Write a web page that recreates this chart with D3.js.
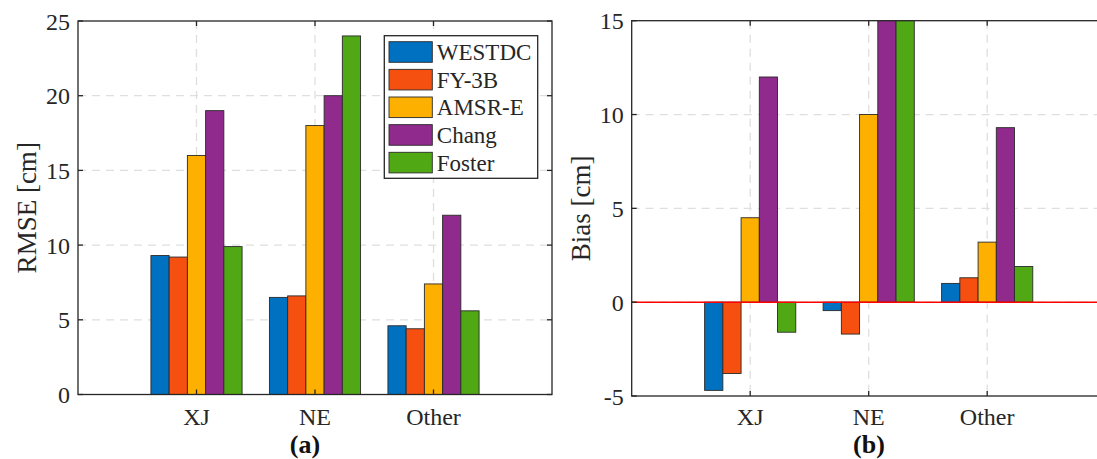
<!DOCTYPE html>
<html>
<head>
<meta charset="utf-8">
<script src="https://cdn.jsdelivr.net/npm/d3@7"></script>
<style>
  html, body { margin: 0; padding: 0; background: #fff; }
  svg, svg text { font-family: "Liberation Serif", "DejaVu Serif", serif; }
</style>
</head>
<body>
<svg id="chart" width="1097" height="459" font-family="Liberation Serif, DejaVu Serif, serif"></svg>
<script>
// Regions (x categories) and snow-depth products (series)
const categories = ["XJ", "NE", "Other"];
const seriesNames = ["WESTDC", "FY-3B", "AMSR-E", "Chang", "Foster"];
const seriesColors = ["#0070c0", "#f5500f", "#fdb000", "#902a8c", "#50a814"];

// RMSE [cm] per product, ordered as categories
const rmseWestdc = [9.3, 6.5, 4.6];
const rmseFy3b   = [9.2, 6.6, 4.4];
const rmseAmsre  = [16.0, 18.0, 7.4];
const rmseChang  = [19.0, 20.0, 12.0];
const rmseFoster = [9.9, 24.0, 5.6];

// Bias [cm] per product, ordered as categories (NE Chang/Foster run past the axis top)
const biasWestdc = [-4.7, -0.45, 1.0];
const biasFy3b   = [-3.8, -1.7, 1.3];
const biasAmsre  = [4.5, 10.0, 3.2];
const biasChang  = [12.0, 19.8, 9.3];
const biasFoster = [-1.6, 23.8, 1.9];

// Axis ticks
const rmseTicks = [0, 5, 10, 15, 20, 25];
const biasTicks = [-5, 0, 5, 10, 15];

const rmseSeries = [rmseWestdc, rmseFy3b, rmseAmsre, rmseChang, rmseFoster];
const biasSeries = [biasWestdc, biasFy3b, biasAmsre, biasChang, biasFoster];

const svg = d3.select("#chart");
const fontFamily = "Liberation Serif, DejaVu Serif, serif";
const axisColor = "#262626";
const gridColor = "#dfdfdf";

// grouped bar layout: group width = n/(n+1.5) of a category slot
const nSeries = seriesNames.length;
const groupWidth = Math.min(0.8, nSeries / (nSeries + 1.5));
const barWidth = groupWidth / nSeries;

function drawPanel(opts) {
  const { left, right, top, bottom, yDomain, ticks, series, yLabel, panelTag, tagX, zeroLine, id } = opts;
  const g = svg.append("g").attr("font-family", fontFamily);
  const x = d3.scaleLinear().domain([0, categories.length + 1]).range([left, right]);
  const y = d3.scaleLinear().domain(yDomain).range([bottom, top]);

  g.append("clipPath").attr("id", id)
    .append("rect").attr("x", left).attr("y", top)
    .attr("width", right - left).attr("height", bottom - top);

  // dashed grid
  const grid = g.append("g").attr("stroke", gridColor).attr("stroke-width", 1.3)
    .attr("stroke-dasharray", "8,6").attr("fill", "none");
  categories.forEach((c, i) => {
    grid.append("line").attr("x1", x(i + 1)).attr("x2", x(i + 1))
      .attr("y1", top).attr("y2", bottom);
  });
  ticks.forEach(t => {
    if (t === yDomain[0] || t === yDomain[1]) return;
    grid.append("line").attr("x1", left).attr("x2", right)
      .attr("y1", y(t)).attr("y2", y(t));
  });

  // bars
  const bars = g.append("g").attr("clip-path", `url(#${id})`);
  series.forEach((vals, s) => {
    vals.forEach((v, i) => {
      const cx = (i + 1) + (s - (nSeries - 1) / 2) * barWidth;
      const x0 = x(cx - barWidth / 2);
      const x1 = x(cx + barWidth / 2);
      bars.append("rect")
        .attr("x", x0).attr("width", x1 - x0)
        .attr("y", Math.min(y(v), y(0)))
        .attr("height", Math.abs(y(v) - y(0)))
        .attr("fill", seriesColors[s])
        .attr("stroke", "#2a2a2a").attr("stroke-width", 0.9);
    });
  });

  if (zeroLine) {
    g.append("line").attr("clip-path", `url(#${id})`)
      .attr("x1", left).attr("x2", right)
      .attr("y1", y(0)).attr("y2", y(0))
      .attr("stroke", "#ff0000").attr("stroke-width", 1.6);
  }

  // box and inward ticks
  const tickLen = 5;
  const ax = g.append("g").attr("stroke", axisColor).attr("stroke-width", 1.3).attr("fill", "none");
  ax.append("rect").attr("x", left).attr("y", top)
    .attr("width", right - left).attr("height", bottom - top);
  categories.forEach((c, i) => {
    const xx = x(i + 1);
    ax.append("line").attr("x1", xx).attr("x2", xx).attr("y1", bottom).attr("y2", bottom - tickLen);
    ax.append("line").attr("x1", xx).attr("x2", xx).attr("y1", top).attr("y2", top + tickLen);
  });
  ticks.forEach(t => {
    ax.append("line").attr("x1", left).attr("x2", left + tickLen).attr("y1", y(t)).attr("y2", y(t));
    ax.append("line").attr("x1", right).attr("x2", right - tickLen).attr("y1", y(t)).attr("y2", y(t));
  });

  // tick labels
  const tl = g.append("g").attr("fill", axisColor).attr("font-size", 24);
  ticks.forEach(t => {
    tl.append("text").attr("x", left - 8).attr("y", y(t)).attr("dy", "0.36em")
      .attr("text-anchor", "end").text(t);
  });
  categories.forEach((c, i) => {
    tl.append("text").attr("x", x(i + 1)).attr("y", 425)
      .attr("text-anchor", "middle").text(c);
  });

  // axis label
  g.append("text")
    .attr("transform", `translate(${left - 51},${(top + bottom) / 2}) rotate(-90)`)
    .attr("text-anchor", "middle").attr("dy", "0.35em")
    .attr("font-size", 27).attr("fill", axisColor).text(yLabel);

  // panel tag
  g.append("text").attr("x", tagX).attr("y", 453)
    .attr("text-anchor", "middle").attr("font-size", 26).attr("font-weight", "bold")
    .attr("fill", "#111").text(panelTag);

  return { x, y };
}

drawPanel({
  id: "clipA", left: 78, right: 552, top: 21, bottom: 394.5,
  yDomain: [0, 25], ticks: rmseTicks, series: rmseSeries,
  yLabel: "RMSE [cm]", panelTag: "(a)", tagX: 305, zeroLine: false
});

drawPanel({
  id: "clipB", left: 631.7, right: 1105.7, top: 20.7, bottom: 396,
  yDomain: [-5, 15], ticks: biasTicks, series: biasSeries,
  yLabel: "Bias [cm]", panelTag: "(b)", tagX: 869, zeroLine: true
});

// legend in panel (a)
const legend = svg.append("g").attr("font-family", fontFamily);
const lgX = 384.3, lgY = 35.7, lgW = 153.4, lgH = 142.6, rowH = 27.65;
legend.append("rect").attr("x", lgX).attr("y", lgY).attr("width", lgW).attr("height", lgH)
  .attr("fill", "#fff").attr("stroke", axisColor).attr("stroke-width", 1.3);
seriesNames.forEach((name, i) => {
  const cy = lgY + 16.3 + i * rowH;
  legend.append("rect").attr("x", lgX + 4.7).attr("y", cy - 10.3)
    .attr("width", 43.3).attr("height", 20.6)
    .attr("fill", seriesColors[i]).attr("stroke", "#2a2a2a").attr("stroke-width", 0.9);
  legend.append("text").attr("x", lgX + 52.5).attr("y", cy).attr("dy", "0.35em")
    .attr("font-size", 23).attr("fill", axisColor).text(name);
});
</script>
</body>
</html>
